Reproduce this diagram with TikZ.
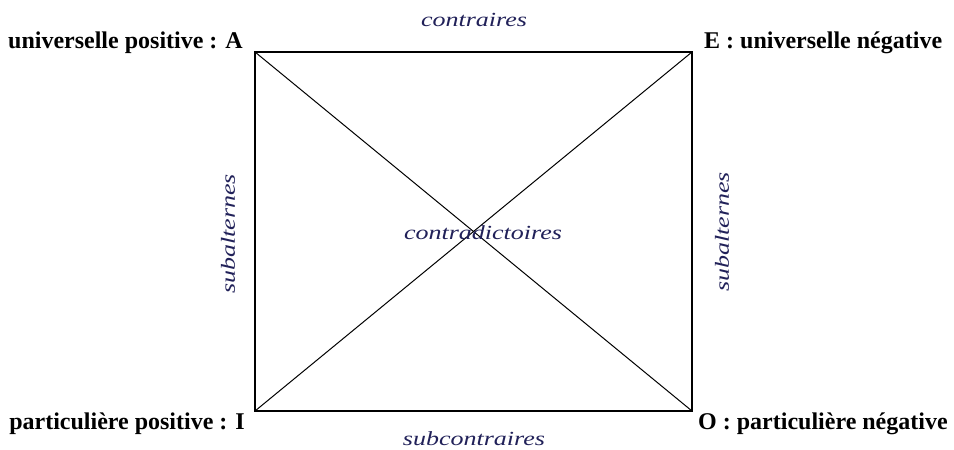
\documentclass[tikz,border=0pt]{standalone}
\usepackage{fontspec}
\setmainfont{Liberation Serif}
\definecolor{lblblue}{rgb}{0.13,0.13,0.35}
\newcommand{\widen}[1]{\scalebox{1.3}[1]{#1}}
\tikzset{
  corner/.style={font=\bfseries\fontsize{24}{28}\selectfont, text=black, inner sep=0pt},
  rel/.style={font=\itshape\fontsize{20}{24}\selectfont, text=lblblue, inner sep=0pt},
  edge/.style={draw=black, line width=1.6pt},
  diag/.style={draw=black, line width=1pt}
}
\begin{document}
\begin{tikzpicture}[x=1pt,y=-1pt]
\useasboundingbox[fill=white] (0,0) rectangle (954,450);
\coordinate (A) at (255,52);
\coordinate (E) at (692,52);
\coordinate (I) at (255,411);
\coordinate (O) at (692,411);
\draw[edge] (A) -- (E) -- (O) -- (I) -- cycle;
\draw[diag] (A) -- (O);
\draw[diag] (E) -- (I);
\node[corner, anchor=base east] (la) at (243,48) {universelle positive : A};
\node[corner, anchor=base west] (le) at (704,48) {E : universelle négative};
\node[corner, anchor=base east] (li) at (245,429) {particulière positive : I};
\node[corner, anchor=base west] (lo) at (698,429) {O : particulière négative};
\node[rel] (c) at (474,20) {\widen{contraires}};
\node[rel] (sc) at (474,439) {\widen{subcontraires}};
\node[rel, rotate=90] (sl) at (228,234) {\widen{subalternes}};
\node[rel, rotate=90] (sr) at (722,232) {\widen{subalternes}};
\node[rel] (cd) at (483,233) {\widen{contradictoires}};
\end{tikzpicture}
\end{document}
